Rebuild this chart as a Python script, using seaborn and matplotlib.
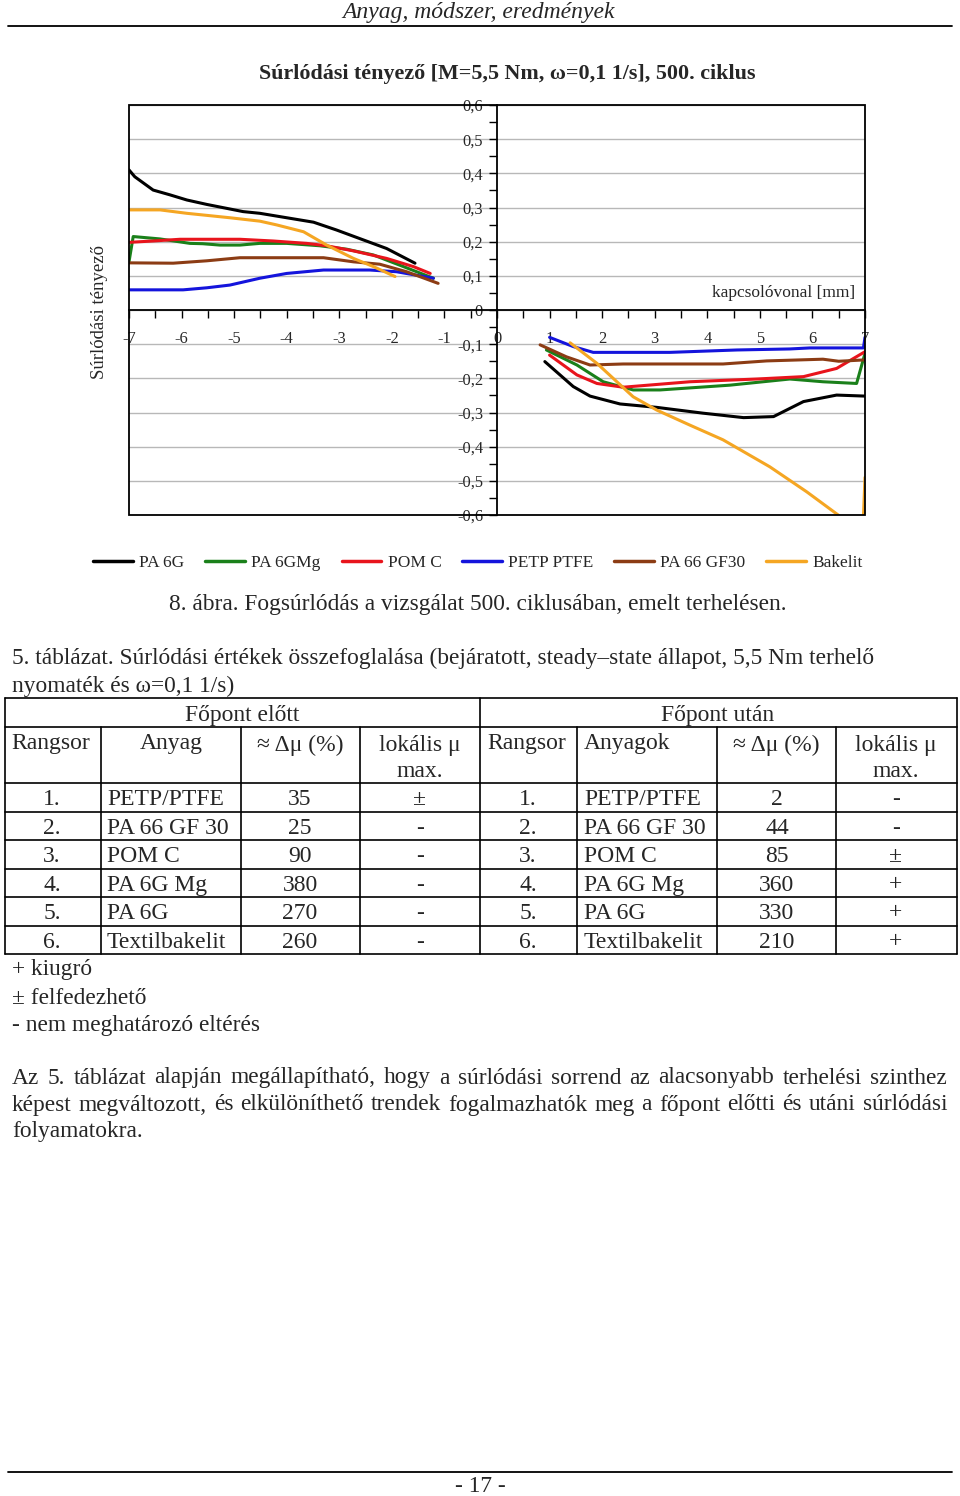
import numpy as np
import pandas as pd
import matplotlib
matplotlib.use("Agg")
import matplotlib.pyplot as plt
import seaborn as sns
from matplotlib.lines import Line2D
from matplotlib.patches import Rectangle
from matplotlib.ticker import MultipleLocator, FuncFormatter

# ---------------- data ----------------
materials = ["PA 6G", "PA 6GMg", "POM C", "PETP PTFE", "PA 66 GF30", "Bakelit"]
colors = ["#000000", "#1a801a", "#e8141c", "#1414dc", "#8c3c14", "#f5a623"]

pa6g_left_x = [-7, -6.89, -6.54, -6.22, -5.9, -5.52, -4.83, -4.51, -4.0, -3.49, -3.05, -2.54, -2.1, -1.56]
pa6g_left_y = [0.41, 0.39, 0.351, 0.337, 0.322, 0.309, 0.288, 0.283, 0.270, 0.257, 0.234, 0.205, 0.18, 0.137]
pa6g_right_x = [0.91, 1.45, 1.77, 2.34, 3.04, 3.92, 4.69, 5.26, 5.83, 6.46, 7.0]
pa6g_right_y = [-0.151, -0.224, -0.252, -0.275, -0.285, -0.302, -0.315, -0.312, -0.268, -0.249, -0.252]

pa6gmg_left_x = [-7, -6.92, -6.41, -5.84, -5.6, -5.27, -4.89, -4.51, -4.0, -3.37, -2.86, -2.35, -1.78, -1.21]
pa6gmg_left_y = [0.141, 0.215, 0.208, 0.195, 0.194, 0.19, 0.19, 0.195, 0.195, 0.188, 0.178, 0.161, 0.127, 0.093]
pa6gmg_right_x = [0.94, 1.52, 2.02, 2.59, 3.1, 4.43, 5.57, 6.2, 6.84, 7.0]
pa6gmg_right_y = [-0.117, -0.161, -0.21, -0.234, -0.234, -0.22, -0.202, -0.21, -0.215, -0.127]

pomc_left_x = [-7, -6.54, -6.03, -4.89, -4.26, -3.62, -3.24, -2.73, -2.1, -1.59, -1.27]
pomc_left_y = [0.198, 0.202, 0.207, 0.207, 0.202, 0.195, 0.188, 0.173, 0.151, 0.127, 0.107]
pomc_right_x = [1.0, 1.52, 1.9, 2.4, 3.67, 4.94, 5.83, 6.46, 7.0]
pomc_right_y = [-0.132, -0.19, -0.215, -0.226, -0.21, -0.202, -0.195, -0.171, -0.122]

petp_left_x = [-7, -5.97, -5.52, -5.08, -4.51, -4.0, -3.3, -2.42, -1.91, -1.21]
petp_left_y = [0.059, 0.059, 0.065, 0.073, 0.093, 0.107, 0.117, 0.117, 0.112, 0.093]
petp_right_x = [1.0, 1.45, 1.83, 3.29, 4.56, 5.57, 5.95, 6.97, 7.0]
petp_right_y = [-0.08, -0.107, -0.124, -0.124, -0.117, -0.114, -0.111, -0.111, -0.08]

pa66_left_x = [-7, -6.16, -5.52, -4.89, -4.0, -3.3, -2.73, -2.23, -1.72, -1.12]
pa66_left_y = [0.138, 0.137, 0.144, 0.153, 0.153, 0.153, 0.141, 0.134, 0.112, 0.078]
pa66_right_x = [0.82, 1.32, 1.77, 2.4, 4.3, 5.13, 6.2, 6.5, 7.0]
pa66_right_y = [-0.102, -0.137, -0.161, -0.158, -0.158, -0.149, -0.144, -0.15, -0.146]

bakelit_left_x = [-7, -6.41, -5.9, -5.08, -4.51, -4.19, -3.68, -3.24, -2.73, -2.35, -1.94]
bakelit_left_y = [0.293, 0.293, 0.283, 0.270, 0.26, 0.249, 0.229, 0.19, 0.151, 0.127, 0.098]
bakelit_right_x = [1.39, 1.9, 2.59, 3.04, 3.67, 4.3, 5.19, 5.89, 6.49, 6.95, 7.0]
bakelit_right_y = [-0.096, -0.156, -0.254, -0.293, -0.337, -0.38, -0.459, -0.532, -0.60, -0.68, -0.49]

series = {
    "PA 6G": [(pa6g_left_x, pa6g_left_y), (pa6g_right_x, pa6g_right_y)],
    "PA 6GMg": [(pa6gmg_left_x, pa6gmg_left_y), (pa6gmg_right_x, pa6gmg_right_y)],
    "POM C": [(pomc_left_x, pomc_left_y), (pomc_right_x, pomc_right_y)],
    "PETP PTFE": [(petp_left_x, petp_left_y), (petp_right_x, petp_right_y)],
    "PA 66 GF30": [(pa66_left_x, pa66_left_y), (pa66_right_x, pa66_right_y)],
    "Bakelit": [(bakelit_left_x, bakelit_left_y), (bakelit_right_x, bakelit_right_y)],
}

# table data
rank_before = ["1.", "2.", "3.", "4.", "5.", "6."]
mat_before = ["PETP/PTFE", "PA 66 GF 30", "POM C", "PA 6G Mg", "PA 6G", "Textilbakelit"]
dmu_before = ["35", "25", "90", "380", "270", "260"]
loc_before = ["±", "-", "-", "-", "-", "-"]
rank_after = ["1.", "2.", "3.", "4.", "5.", "6."]
mat_after = ["PETP/PTFE", "PA 66 GF 30", "POM C", "PA 6G Mg", "PA 6G", "Textilbakelit"]
dmu_after = ["2", "44", "85", "360", "330", "210"]
loc_after = ["-", "-", "±", "+", "+", "+"]

# ---------------- style ----------------
sns.set_style("white")
plt.rcParams["font.family"] = ["Liberation Serif", "DejaVu Serif"]

W, H = 960, 1496
fig = plt.figure(figsize=(W / 100, H / 100), dpi=100)
page = fig.add_axes([0, 0, 1, 1], zorder=0)
page.set_xlim(0, W)
page.set_ylim(H, 0)
page.axis("off")

BODY = 16.8
TABLE = 17

# header / footer
page.text(479, 12, "Anyag, módszer, eredmények", ha="center", va="center",
          fontsize=17, style="italic")
page.plot([8, 952], [26, 26], color="black", lw=1.3)
page.plot([8, 952], [1472, 1472], color="black", lw=1.3)
page.text(480, 1487, "- 17 -", ha="center", va="center", fontsize=BODY)

# ---------------- chart ----------------
L, R, T, B = 129, 865, 105, 515
ax = fig.add_axes([L / W, 1 - B / H, (R - L) / W, (B - T) / H], zorder=2)

rows = []
for m, segs in series.items():
    for side, (xs, ys) in zip(["left", "right"], segs):
        for xv, yv in zip(xs, ys):
            rows.append({"material": m, "side": side, "x": xv, "y": yv})
df = pd.DataFrame(rows)

sns.lineplot(data=df, x="x", y="y", hue="material", units="side", estimator=None,
             sort=False, hue_order=materials, palette=dict(zip(materials, colors)),
             linewidth=2.2, legend=False, ax=ax)

ax.set_xlim(-7, 7)
ax.set_ylim(-0.6, 0.6)
ax.set_xlabel("")
ax.set_ylabel("")
ax.spines["left"].set_position(("data", 0))
ax.spines["bottom"].set_position(("data", 0))
ax.spines["top"].set_visible(False)
ax.spines["right"].set_visible(False)
for s in ["left", "bottom"]:
    ax.spines[s].set_color("black")
    ax.spines[s].set_linewidth(1.3)
ax.add_patch(Rectangle((0, 0), 1, 1, transform=ax.transAxes, fill=False,
                       ec="black", lw=1.3, clip_on=False, zorder=5))

ax.xaxis.set_major_locator(MultipleLocator(1))
ax.xaxis.set_minor_locator(MultipleLocator(0.5))
ax.yaxis.set_major_locator(MultipleLocator(0.1))
ax.yaxis.set_minor_locator(MultipleLocator(0.05))
ax.tick_params(which="both", direction="out", length=6, width=1, color="black",
               bottom=True, left=True)
ax.tick_params(axis="x", pad=9, labelsize=11.8)
ax.tick_params(axis="y", pad=4, labelsize=11.8)
ax.xaxis.set_major_formatter(FuncFormatter(lambda v, _: f"{int(round(v))}"))
ax.yaxis.set_major_formatter(FuncFormatter(
    lambda v, _: "0" if abs(v) < 1e-9 else f"{v:.1f}".replace(".", ",")))
ax.set_axisbelow(True)
ax.yaxis.grid(True, which="major", color="#b8b8b8", lw=1)
ax.xaxis.grid(False)

ax.text(855, 293, "kapcsolóvonal [mm]", ha="right", va="center", fontsize=12.5,
        transform=page.transData)

page.text(507, 74, "Súrlódási tényező [M=5,5 Nm, ω=0,1 1/s], 500. ciklus",
          ha="center", va="center", fontsize=15.8, fontweight="bold")
page.text(100, 312, "Súrlódási tényező", rotation=90, ha="center", va="center",
          fontsize=13.5)

handles = [Line2D([], [], color=c, lw=2.5) for c in colors]
fig.legend(handles, materials, loc="center", bbox_to_anchor=(478 / W, 1 - 563 / H),
           ncol=6, frameon=False, fontsize=12.5, handlelength=2.3,
           handletextpad=0.35, columnspacing=1.2)

page.text(478, 604, "8. ábra. Fogsúrlódás a vizsgálat 500. ciklusában, emelt terhelésen.",
          ha="center", va="center", fontsize=BODY)

# ---------------- table ----------------
page.text(12, 658, "5. táblázat. Súrlódási értékek összefoglalása (bejáratott, steady–state állapot, 5,5 Nm terhelő",
          ha="left", va="center", fontsize=BODY)
page.text(12, 686, "nyomaték és ω=0,1 1/s)", ha="left", va="center", fontsize=BODY)

hlines = [698, 727, 783, 812, 840, 869, 897, 926, 954]
for yy in hlines:
    page.plot([5, 957], [yy, yy], color="black", lw=1.2)
for xx in [5, 480, 957]:
    page.plot([xx, xx], [698, 954], color="black", lw=1.2)
for xx in [101, 241, 360, 577, 717, 836]:
    page.plot([xx, xx], [727, 954], color="black", lw=1.2)

dy = 2
page.text(242, 713 + dy, "Főpont előtt", ha="center", va="center", fontsize=TABLE)
page.text(718, 713 + dy, "Főpont után", ha="center", va="center", fontsize=TABLE)
page.text(11, 741 + dy, "Rangsor", ha="left", va="center", fontsize=TABLE)
page.text(171, 741 + dy, "Anyag", ha="center", va="center", fontsize=TABLE)
page.text(300, 743 + dy, "≈ Δμ (%)", ha="center", va="center", fontsize=TABLE)
page.text(420, 743 + dy, "lokális μ", ha="center", va="center", fontsize=TABLE)
page.text(420, 769 + dy, "max.", ha="center", va="center", fontsize=TABLE)
page.text(487, 741 + dy, "Rangsor", ha="left", va="center", fontsize=TABLE)
page.text(584, 741 + dy, "Anyagok", ha="left", va="center", fontsize=TABLE)
page.text(776, 743 + dy, "≈ Δμ (%)", ha="center", va="center", fontsize=TABLE)
page.text(896, 743 + dy, "lokális μ", ha="center", va="center", fontsize=TABLE)
page.text(896, 769 + dy, "max.", ha="center", va="center", fontsize=TABLE)

row_y = [797, 826, 854, 883, 911, 940]
for i, yy in enumerate(row_y):
    yy = yy + dy
    page.text(52, yy, rank_before[i], ha="center", va="center", fontsize=TABLE)
    page.text(107, yy, mat_before[i], ha="left", va="center", fontsize=TABLE)
    page.text(300, yy, dmu_before[i], ha="center", va="center", fontsize=TABLE)
    page.text(420, yy, loc_before[i], ha="center", va="center", fontsize=TABLE)
    page.text(528, yy, rank_after[i], ha="center", va="center", fontsize=TABLE)
    page.text(584, yy, mat_after[i], ha="left", va="center", fontsize=TABLE)
    page.text(777, yy, dmu_after[i], ha="center", va="center", fontsize=TABLE)
    page.text(896, yy, loc_after[i], ha="center", va="center", fontsize=TABLE)

page.text(12, 969, "+ kiugró", ha="left", va="center", fontsize=BODY)
page.text(12, 998, "± felfedezhető", ha="left", va="center", fontsize=BODY)
page.text(12, 1025, "- nem meghatározó eltérés", ha="left", va="center", fontsize=BODY)

# ---------------- justified paragraph ----------------
renderer = fig.canvas.get_renderer()


def justify(line, y, x0, x1):
    words = line.split(" ")
    ts = [page.text(0, y, w, ha="left", va="center", fontsize=BODY) for w in words]
    widths = [t.get_window_extent(renderer).width for t in ts]
    gap = (x1 - x0 - sum(widths)) / (len(words) - 1)
    x = x0
    for t, w in zip(ts, widths):
        t.set_x(x)
        x += w + gap


justify("Az 5. táblázat alapján megállapítható, hogy a súrlódási sorrend az alacsonyabb terhelési szinthez",
        1078, 12, 947)
justify("képest megváltozott, és elkülöníthető trendek fogalmazhatók meg a főpont előtti és utáni súrlódási",
        1105, 12, 947)
page.text(12, 1132, "folyamatokra.", ha="left", va="center", fontsize=BODY)

fig.savefig("out.png", dpi=100)
